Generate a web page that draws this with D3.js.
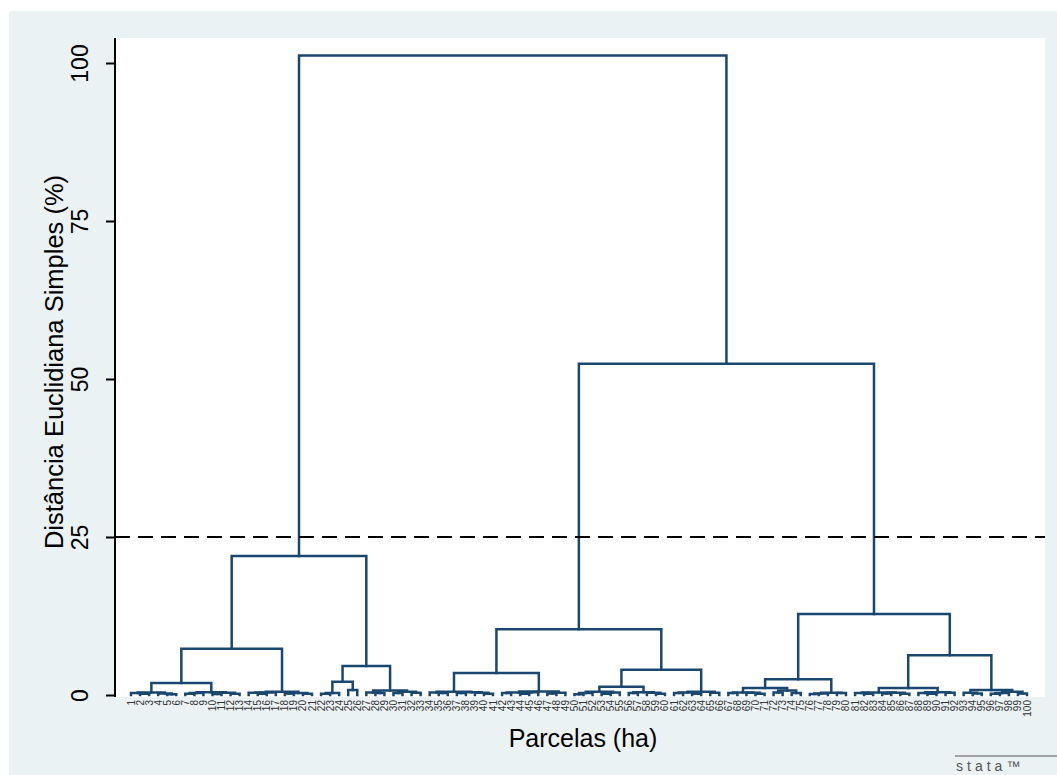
<!DOCTYPE html>
<html>
<head>
<meta charset="utf-8">
<script src="https://cdn.jsdelivr.net/npm/d3@7"></script>
<style>
  body { margin: 0; background: #fff; }
  text { font-family: "Liberation Sans", Arial, sans-serif; }
</style>
</head>
<body>
<div id="chart"></div>
<script>
const width = 1057;
const height = 775;

// Dendrogram data: node = [height, left, right], leaf = parcel number
const groupA11 = [0.4, [0.3, 1, [0.2, 2, 3]], [0.25, 4, [0.1, 5, 6]]];
const groupA12 = [0.45, [0.3, [0.2, 7, 8], 9], [0.35, [0.15, 10, 11], [0.2, 12, 13]]];
const groupA2 = [0.5, [0.4, [0.35, 14, [0.2, 15, 16]], 17], [0.3, [0.25, 18, 19], [0.2, 20, 21]]];
const groupB1 = [2.1, [0.3, [0.2, 22, 23], 24], [0.8, 25, 26]];
const groupB2 = [0.7, [0.4, 27, [0.3, 28, 29]], [0.5, [0.3, 30, 31], [0.35, 32, 33]]];

const groupM1a = [0.5, [0.4, 34, [0.3, 35, 36]], [0.45, [0.3, 37, 38], [0.35, 39, [0.2, 40, 41]]]];
const groupM1b = [0.55, [0.4, [0.3, 42, 43], [0.45, [0.2, 44, 45], 46]], [0.35, [0.25, 47, 48], 49]];
const groupM2a1 = [0.5, [0.3, [0.1, 50, 51], 52], [0.4, [0.2, 53, 54], 55]];
const groupM2a2 = [0.45, [0.3, 56, 57], [0.35, 58, [0.2, 59, 60]]];
const groupM2b = [0.5, [0.4, [0.3, 61, 62], [0.2, 63, 64]], [0.35, 65, 66]];

const groupR2a = [2.5,
  [1.1, [0.4, [0.3, 67, 68], [0.35, 69, [0.2, 70, 71]]], [0.7, [0.4, 72, 73], [0.3, 74, 75]]],
  [0.35, [0.25, [0.15, 76, 77], 78], [0.3, 79, 80]]];
const groupR2b = [6.3,
  [1.1, [0.4, [0.3, 81, [0.2, 82, 83]], [0.35, [0.25, 84, 85], [0.2, 86, 87]]],
        [0.45, [0.3, 88, [0.2, 89, 90]], [0.35, 91, 92]]],
  [0.8, [0.35, 93, [0.25, 94, 95]], [0.5, [0.3, [0.2, 96, 97], 98], [0.25, 99, 100]]]];

const clusterLeft = [22.0, [7.3, [1.9, groupA11, groupA12], groupA2], [4.6, groupB1, groupB2]];
const clusterMid = [10.4, [3.5, groupM1a, groupM1b], [4.0, [1.3, groupM2a1, groupM2a2], groupM2b]];
const clusterRight = [12.8, groupR2a, groupR2b];
const tree = [101.2, clusterLeft, [52.4, clusterMid, clusterRight]];

const yTicks = [0, 25, 50, 75, 100];
const cutLine = 25;
const yTitle = "Distância Euclidiana Simples (%)";
const xTitle = "Parcelas (ha)";

const navy = "#1a476f";

const svg = d3.select("#chart")
  .append("svg")
  .attr("width", width)
  .attr("height", height);

// fundo
svg.append("rect").attr("x", 9).attr("y", 11).attr("width", width - 9).attr("height", height - 11)
  .attr("fill", "#eaf2f3");
svg.append("rect").attr("x", 115).attr("y", 38).attr("width", 1045 - 115).attr("height", 697 - 38)
  .attr("fill", "#fff");

const root = d3.hierarchy(tree, d => Array.isArray(d) ? [d[1], d[2]] : null);
const leaves = root.leaves().map(d => d.data);

const x = d3.scalePoint().domain(leaves).range([131, 1027]);
const y = d3.scaleLinear().domain([0, 100]).range([695, 63]);

const hOf = d => Array.isArray(d.data) ? d.data[0] : 0;

// posição x: folha na escala, nó = média dos filhos
root.eachAfter(d => {
  d.px = d.children ? d3.mean(d.children, c => c.px) : x(d.data);
});

const lines = svg.append("g")
  .attr("fill", "none")
  .attr("stroke", navy)
  .attr("stroke-width", 2.5)
  .attr("stroke-linecap", "square");

root.descendants().filter(d => d.children).forEach(d => {
  const [l, r] = d.children;
  const yy = y(hOf(d));
  lines.append("path")
    .attr("d", `M${l.px},${y(hOf(l))}V${yy}H${r.px}V${y(hOf(r))}`);
});

// linha de corte
svg.append("line")
  .attr("x1", 115).attr("x2", 1045)
  .attr("y1", y(cutLine)).attr("y2", y(cutLine))
  .attr("stroke", "#000").attr("stroke-width", 2.2)
  .attr("stroke-dasharray", "15,8");

// eixo y
const yAxis = svg.append("g")
  .attr("transform", "translate(115,0)")
  .call(d3.axisLeft(y).tickValues(yTicks).tickSize(9));
yAxis.select(".domain").remove();
yAxis.selectAll(".tick line").attr("stroke", "#000").attr("stroke-width", 2);
yAxis.selectAll(".tick text")
  .attr("transform", "rotate(-90)")
  .attr("x", 0).attr("y", -27).attr("dy", 0)
  .attr("text-anchor", "middle")
  .attr("font-size", 23)
  .attr("fill", "#000");
svg.append("line")
  .attr("x1", 115).attr("x2", 115).attr("y1", 38).attr("y2", 697)
  .attr("stroke", "#000").attr("stroke-width", 2);

// rótulos das parcelas
svg.append("g")
  .selectAll("text")
  .data(leaves)
  .join("text")
  .attr("transform", d => `translate(${x(d)},700) rotate(-90)`)
  .attr("text-anchor", "end")
  .attr("dy", "0.35em")
  .attr("font-size", 10)
  .attr("fill", "#333")
  .text(d => d);

// títulos
svg.append("text")
  .attr("transform", "translate(63,362) rotate(-90)")
  .attr("text-anchor", "middle")
  .attr("font-size", 25.5)
  .text(yTitle);
svg.append("text")
  .attr("x", 583).attr("y", 747)
  .attr("text-anchor", "middle")
  .attr("font-size", 25)
  .text(xTitle);

// logo
svg.append("line")
  .attr("x1", 955).attr("x2", 1057).attr("y1", 756).attr("y2", 756)
  .attr("stroke", "#555").attr("stroke-width", 1.2);
svg.append("text")
  .attr("x", 956).attr("y", 771)
  .attr("font-size", 14)
  .attr("letter-spacing", 4)
  .attr("fill", "#555")
  .text("stata™");
</script>
</body>
</html>
